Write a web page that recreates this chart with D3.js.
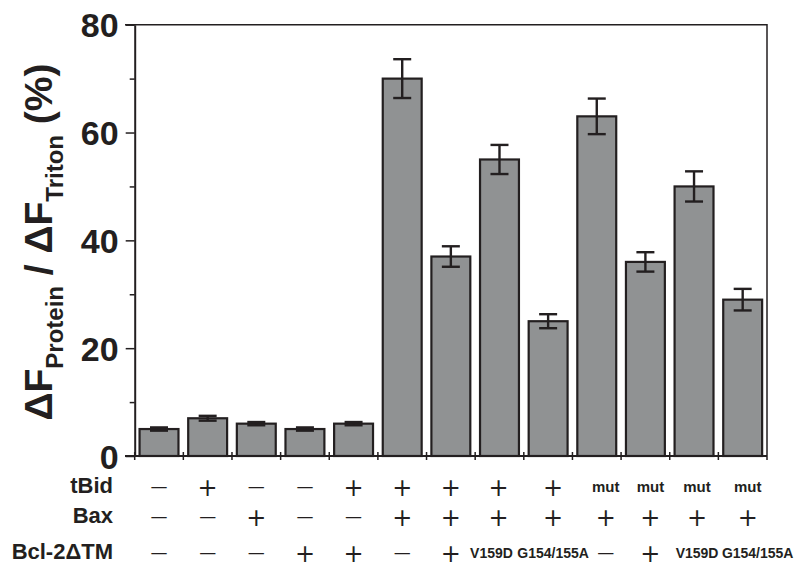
<!DOCTYPE html>
<html>
<head>
<meta charset="utf-8">
<script src="https://cdn.jsdelivr.net/npm/d3@7"></script>
<style>
  body { margin: 0; background: #fff; }
  svg { display: block; }
  text { fill: #231f20; font-family: 'Liberation Sans', Arial, sans-serif; }
</style>
</head>
<body>
<svg id="chart" width="800" height="568"></svg>
<script>
// Data
var values = [5, 7, 6, 5, 6, 70, 37, 55, 25, 63, 36, 50, 29]
var errors = [0.3, 0.45, 0.3, 0.3, 0.3, 3.6, 1.9, 2.7, 1.3, 3.3, 1.8, 2.8, 2]
var rowLabels = ['tBid', 'Bax', 'Bcl-2\u0394TM']
var tBid = ['-', '+', '-', '-', '+', '+', '+', '+', '+', 'mut', 'mut', 'mut', 'mut']
var bax = ['-', '-', '+', '-', '-', '+', '+', '+', '+', '+', '+', '+', '+']
var bcl = ['-', '-', '-', '+', '+', '-', '+', 'V159D', 'G154/155A', '-', '+', 'V159D', 'G154/155A']
var majorTicks = [0, 20, 40, 60, 80]
var minorTicks = [10, 30, 50, 70];

(function () {
  var INK = '#231f20'
  var FILL = '#909293'
  var X0 = 134.7, X1 = 767, Y0 = 456, Y1 = 24.7

  var svg = d3.select('#chart')

  var x = d3.scaleBand()
    .domain(d3.range(values.length))
    .range([X0, X1])
    .paddingInner(0.2)
    .paddingOuter(0.1)

  var y = d3.scaleLinear()
    .domain([0, 80])
    .range([Y0, Y1])

  // Frame (top and right)
  svg.append('path')
    .attr('d', 'M125,' + Y1 + 'H' + X1 + 'V' + (Y0 + 4))
    .attr('fill', 'none')
    .attr('stroke', INK)
    .attr('stroke-width', 1.5)

  // Bars
  svg.append('g').selectAll('rect')
    .data(values)
    .enter().append('rect')
    .attr('x', function (d, i) { return x(i) })
    .attr('y', function (d) { return y(d) })
    .attr('width', x.bandwidth())
    .attr('height', function (d) { return y(0) - y(d) })
    .attr('fill', FILL)
    .attr('stroke', INK)
    .attr('stroke-width', 2.2)

  // Error bars
  var eb = svg.append('g')
    .attr('stroke', INK)
    .attr('stroke-width', 2.4)
    .selectAll('g')
    .data(values)
    .enter().append('g')
    .attr('transform', function (d, i) { return 'translate(' + (x(i) + x.bandwidth() / 2) + ',0)' })
  eb.append('line')
    .attr('y1', function (d, i) { return y(d + errors[i]) })
    .attr('y2', function (d, i) { return y(d - errors[i]) })
  eb.append('line')
    .attr('x1', -9).attr('x2', 9)
    .attr('y1', function (d, i) { return y(d + errors[i]) })
    .attr('y2', function (d, i) { return y(d + errors[i]) })
  eb.append('line')
    .attr('x1', -9).attr('x2', 9)
    .attr('y1', function (d, i) { return y(d - errors[i]) })
    .attr('y2', function (d, i) { return y(d - errors[i]) })

  // Y axis
  var yAxis = svg.append('g')
    .attr('transform', 'translate(' + X0 + ',0)')
    .call(d3.axisLeft(y).tickValues(majorTicks).tickSize(9).tickPadding(7).tickSizeOuter(0))
  yAxis.select('.domain').attr('stroke', INK).attr('stroke-width', 2)
  yAxis.selectAll('.tick line').attr('stroke', INK).attr('stroke-width', 1.5)
  yAxis.selectAll('.tick text')
    .attr('fill', INK)
    .style('font-family', "'Liberation Sans', Arial, sans-serif")
    .style('font-weight', 'bold')
    .style('font-size', '34px')
    .attr('dy', '0.36em')

  svg.append('g')
    .attr('transform', 'translate(' + X0 + ',0)')
    .call(d3.axisLeft(y).tickValues(minorTicks).tickSize(5).tickFormat('').tickSizeOuter(0))
    .call(function (g) { g.select('.domain').remove() })
    .selectAll('.tick line').attr('stroke', INK).attr('stroke-width', 1.5)

  // X axis with ticks at band boundaries
  svg.append('line')
    .attr('x1', 125).attr('x2', X1)
    .attr('y1', Y0).attr('y2', Y0)
    .attr('stroke', INK).attr('stroke-width', 2)
  var step = x.step()
  svg.append('g').selectAll('line')
    .data(d3.range(values.length))
    .enter().append('line')
    .attr('x1', function (i) { return x(i) - x.paddingOuter() * step })
    .attr('x2', function (i) { return x(i) - x.paddingOuter() * step })
    .attr('y1', Y0 - 4).attr('y2', Y0 + 4)
    .attr('stroke', INK).attr('stroke-width', 1.5)

  // Y title
  var title = svg.append('text')
    .attr('transform', 'translate(52,242) rotate(-90)')
    .attr('text-anchor', 'middle')
    .style('font-weight', 'bold')
    .style('font-size', '39px')
  title.append('tspan').text('\u0394F')
  title.append('tspan').attr('dy', 11).style('font-size', '24px').text('Protein')
  title.append('tspan').attr('dy', -11).text(' / \u0394F')
  title.append('tspan').attr('dy', 11).style('font-size', '24px').text('Triton')
  title.append('tspan').attr('dy', -11).text(' (%)')

  // Condition table
  var rows = [tBid, bax, bcl]
  var rowY = [487, 517, 553]
  var colShift = [0, 0, 0, 0, 0, 0, 0, -1, 5, 9, 5, 3, 5]
  function nudge (r, c, v) {
    if (r === 2 && v === 'V159D' && c === 7) return -7
    if (r === 2 && v === 'G154/155A' && c === 12) return 10
    return 0
  }

  svg.append('g').selectAll('text')
    .data(rowLabels)
    .enter().append('text')
    .attr('x', 113)
    .attr('y', function (d, i) { return rowY[i] + 6 })
    .attr('text-anchor', 'end')
    .style('font-weight', 'bold')
    .style('font-size', '22px')
    .text(function (d) { return d })

  rows.forEach(function (row, r) {
    svg.append('g').selectAll('text')
      .data(row)
      .enter().append('text')
      .attr('x', function (d, c) { return x(c) + x.bandwidth() / 2 + colShift[c] + nudge(r, c, d) })
      .attr('y', function (d) {
        if (d === '+') return rowY[r] + 9
        return rowY[r] + 5
      })
      .attr('text-anchor', 'middle')
      .style('font-family', function (d) { return (d === '+' || d === '-') ? "'DejaVu Sans', sans-serif" : null })
      .style('font-weight', 'bold')
      .style('font-weight', function (d) { return (d === '+' || d === '-') ? 'normal' : 'bold' })
      .style('font-size', function (d) {
        if (d === '+') return '24px'
        if (d === '-') return '17px'
        if (d === 'mut') return '15px'
        return '14px'
      })
      .text(function (d) { return d === '-' ? '\u2014' : d })
  })
})()
</script>
</body>
</html>
